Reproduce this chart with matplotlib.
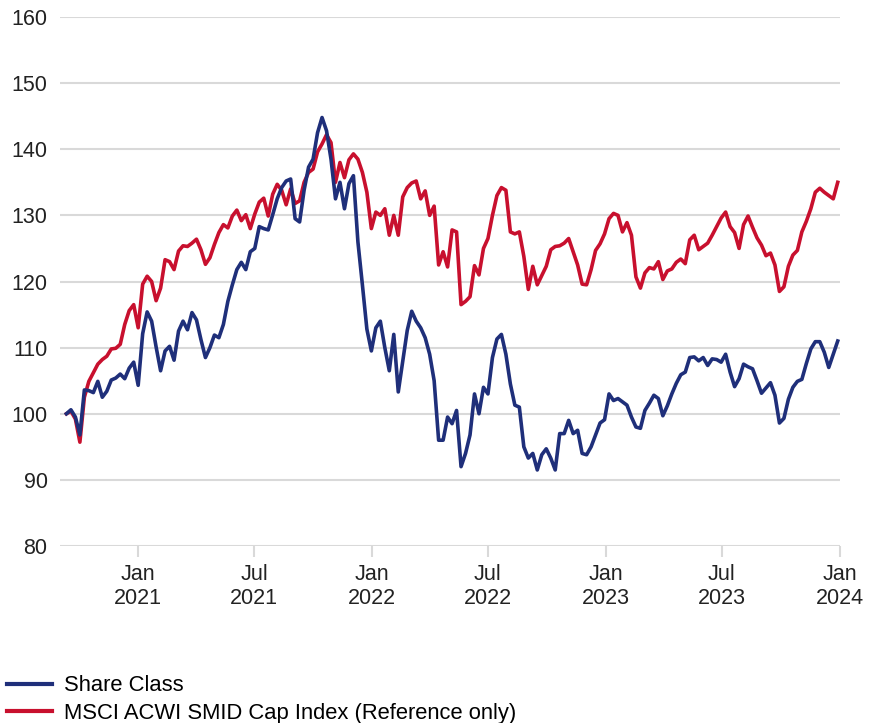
import matplotlib.pyplot as plt
import pandas as pd

plt.rcParams['font.family'] = ['Liberation Sans', 'DejaVu Sans']

# weekly closes, rebased to 100
dates = pd.date_range("2020-09-11", periods=173, freq="7D")

share_class = [
    100, 100.6, 99.5, 96.8, 103.6, 103.5, 103.2, 104.9, 102.5, 103.4,
    105.1, 105.4, 106, 105.3, 106.9, 107.8, 104.3, 112.1, 115.4, 114,
    110.1, 106.5, 109.5, 110.2, 108.1, 112.5, 114, 112.7, 115.3, 114.2,
    111.2, 108.5, 110, 111.9, 111.5, 113.5, 117, 119.5, 121.8, 122.9,
    121.8, 124.5, 125, 128.3, 128, 127.8, 130.1, 132.5, 134.2, 135.2,
    135.5, 129.5, 129, 133.8, 137.3, 138.5, 142.5, 144.8, 142.8, 138.5,
    132.5, 135, 131, 134.8, 136, 126, 119.5, 112.8, 109.5, 113,
    114, 110, 106.5, 112, 103.3, 108, 112.6, 115.5, 114, 113,
    111.5, 109, 105, 96, 96, 99.5, 98.5, 100.5, 92, 94,
    96.8, 103, 100, 104, 103, 108.5, 111.3, 112, 109, 104.5,
    101.3, 101, 95, 93.3, 94, 91.5, 93.8, 94.7, 93.3, 91.5,
    97, 97, 99, 97, 97.5, 94, 93.8, 95, 96.8, 98.6,
    99.1, 103, 102, 102.3, 101.8, 101.3, 99.5, 98, 97.8, 100.5,
    101.6, 102.8, 102.3, 99.7, 101.2, 103, 104.6, 105.9, 106.3, 108.5,
    108.6, 108, 108.5, 107.3, 108.3, 108.2, 107.8, 109, 106.3, 104.1,
    105.3, 107.5, 107.1, 106.8, 105, 103.1, 103.9, 104.7, 102.8, 98.6,
    99.3, 102.2, 104, 104.9, 105.2, 107.6, 109.8, 110.9, 110.9, 109.3,
    107, 109, 111,
]

msci_smid = [
    100, 100.4, 99.2, 95.7, 102.5, 104.9, 106.2, 107.5, 108.2, 108.7,
    109.8, 109.9, 110.5, 113.5, 115.6, 116.5, 113, 119.6, 120.8, 120,
    117.1, 119, 123.3, 123, 121.8, 124.6, 125.4, 125.3, 125.8, 126.4,
    124.8, 122.6, 123.6, 125.6, 127.4, 128.6, 128.1, 129.9, 130.8, 129.2,
    130.1, 128, 130.2, 132, 132.6, 129.9, 133.2, 134.7, 133.8, 131.6,
    134, 131.8, 132.2, 135, 136.5, 137, 139.6, 140.8, 142.2, 141,
    135, 138, 135.7, 138.4, 139.3, 138.5, 136.5, 133.5, 128, 130.5,
    130, 131, 127, 130, 127, 132.8, 134.2, 134.9, 135.2, 132.5,
    133.7, 130, 131.4, 122.5, 124.5, 122.2, 127.8, 127.5, 116.5, 117,
    117.7, 122.4, 121, 125, 126.5, 130, 133, 134.2, 133.8, 127.5,
    127.2, 127.5, 123.8, 118.8, 122.3, 119.5, 120.9, 122.3, 124.8, 125.3,
    125.4, 125.8, 126.5, 124.5, 122.5, 119.6, 119.5, 121.8, 124.7, 125.7,
    127.2, 129.5, 130.3, 130, 127.5, 128.9, 127, 120.7, 119, 121.3,
    122.1, 121.9, 123, 120.3, 121.6, 121.9, 122.9, 123.4, 122.7, 126.3,
    127, 124.8, 125.3, 125.8, 127, 128.3, 129.6, 130.5, 128.3, 127.4,
    125, 128.6, 129.9, 128.2, 126.6, 125.5, 123.9, 124.3, 122.5, 118.5,
    119.2, 122.3, 124, 124.7, 127.5, 129.1, 131, 133.5, 134.1, 133.5,
    133, 132.5, 135,
]

navy = "#1f2f7a"
crimson = "#c8102e"
grid_grey = "#d9d9d9"

fig = plt.figure(figsize=(8.75, 7.23), dpi=100)
ax = fig.add_axes([0.0686, 0.2448, 0.891, 0.7317])

ax.plot(dates, share_class, color=navy, lw=2.6, label="Share Class", zorder=3)
ax.plot(dates, msci_smid, color=crimson, lw=2.6,
        label="MSCI ACWI SMID Cap Index (Reference only)", zorder=2)

ax.set_ylim(80, 160)
ax.set_yticks(range(80, 161, 10))
ax.set_xlim(pd.Timestamp("2020-09-01"), pd.Timestamp("2024-01-01"))

tick_dates = pd.to_datetime(["2021-01-01", "2021-07-01", "2022-01-01", "2022-07-01",
                             "2023-01-01", "2023-07-01", "2024-01-01"])
ax.set_xticks(tick_dates)
ax.set_xticklabels([d.strftime("%b\n%Y") for d in tick_dates])

ax.grid(axis="y", color=grid_grey, lw=1.5)
ax.set_axisbelow(True)
for s in ax.spines.values():
    s.set_visible(False)

ax.tick_params(axis="y", length=0, pad=9, labelsize=15.5, labelcolor="#222222")
ax.tick_params(axis="x", length=8, width=1.5, color=grid_grey, pad=5,
               labelsize=15.5, labelcolor="#222222")

leg = fig.legend(loc="upper left", bbox_to_anchor=(0.0, 0.075), frameon=False,
                 fontsize=15.8, handlelength=2.05, handletextpad=0.55,
                 labelspacing=0.3, borderaxespad=0, borderpad=0.3)
for line in leg.get_lines():
    line.set_linewidth(3)

fig.savefig("out.png", dpi=100)
